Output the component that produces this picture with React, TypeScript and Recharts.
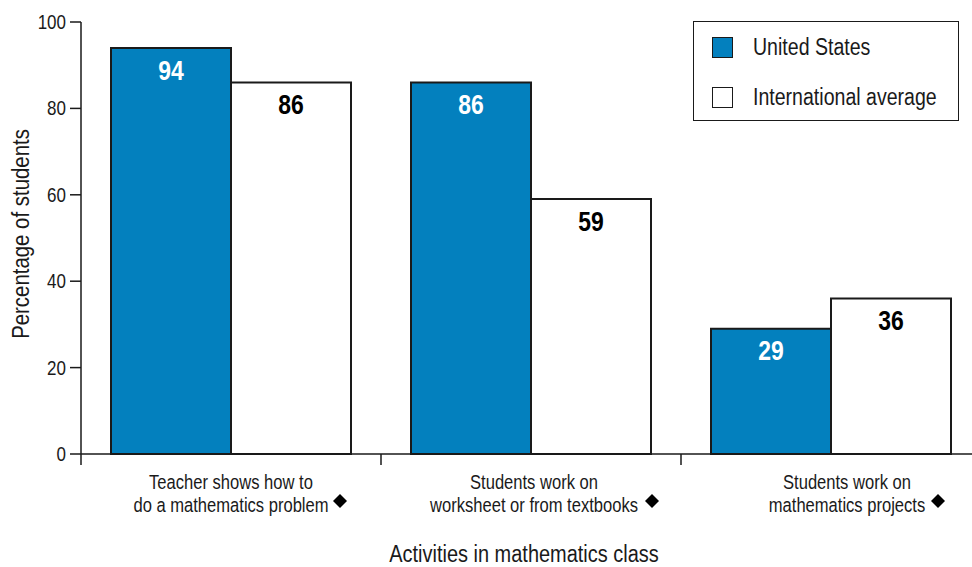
import { ComposedChart, Bar, XAxis, YAxis, LabelList } from "recharts";

// Share of students reporting each activity in maths lessons
const activities = [
  "Teacher shows how to|do a mathematics problem",
  "Students work on|worksheet or from textbooks",
  "Students work on|mathematics projects",
];
const unitedStates = [94, 86, 29];
const internationalAvg = [86, 59, 36];
const yTicks = [0, 20, 40, 60, 80, 100];

const rows = activities.map((name, i) => ({
  name,
  us: unitedStates[i],
  intl: internationalAvg[i],
}));

const FONT = "'Liberation Sans', Arial, sans-serif";
const SQUEEZE = 0.85; // condensed look for all text
const BLUE = "#0380BE";
const INK = "#1a1a1a";

const CHART_W = 1000;
const CHART_H = 567;
const MARGIN = { top: 22, right: 19, bottom: 0, left: 0 };
const Y_AXIS_W = 81;
const X_AXIS_H = 113;
const BAND = (CHART_W - MARGIN.left - MARGIN.right - Y_AXIS_W) / activities.length;

type NarrowProps = {
  x: number;
  y: number;
  size: number;
  anchor?: "start" | "middle" | "end";
  fill?: string;
  weight?: string | number;
  rotate?: number;
  children: any;
};

function NarrowText({ x, y, size, anchor = "middle", fill = INK, weight = "normal", rotate = 0, children }: NarrowProps) {
  return (
    <g transform={`translate(${x} ${y}) rotate(${rotate}) scale(${SQUEEZE} 1)`}>
      <text
        x={0}
        y={0}
        textAnchor={anchor}
        dominantBaseline="central"
        fontFamily={FONT}
        fontSize={size}
        fontWeight={weight}
        fill={fill}
      >
        {children}
      </text>
    </g>
  );
}

function CategoryTick(props: any) {
  const { x, y, payload } = props;
  const idx = payload.index ?? activities.indexOf(payload.value);
  const lines = String(payload.value).split("|");
  const left = x - BAND / 2;
  // the last label sits a little right of its band centre
  const cx = x + (idx === 2 ? 16 : idx === 1 ? 3 : 0);
  // diamond marker trails the second line
  const dx = [109, 121, 107][idx] ?? 110;
  const dy = y + 47;
  return (
    <g>
      <line x1={left} x2={left} y1={y} y2={y + 11} stroke={INK} strokeWidth={1.5} />
      {lines.map((ln, i) => (
        <NarrowText key={i} x={cx} y={y + 29 + i * 23} size={19.5}>
          {ln}
        </NarrowText>
      ))}
      <path d={`M${x + dx} ${dy - 7} L${x + dx + 7} ${dy} L${x + dx} ${dy + 7} L${x + dx - 7} ${dy} Z`} fill="#000" />
    </g>
  );
}

function ValueTick(props: any) {
  const { x, y, payload } = props;
  return (
    <NarrowText x={x} y={y} size={20} anchor="end">
      {payload.value}
    </NarrowText>
  );
}

function YTitle(props: any) {
  const { viewBox } = props;
  return (
    <NarrowText x={21} y={viewBox.y + viewBox.height / 2 - 4} size={24} rotate={-90}>
      Percentage of students
    </NarrowText>
  );
}

function XTitle(props: any) {
  const { viewBox } = props;
  return (
    <NarrowText x={524} y={viewBox.y + 100} size={23.5}>
      Activities in mathematics class
    </NarrowText>
  );
}

const barLabel = (color: string) => (props: any) => {
  const { x, y, width, value } = props;
  return (
    <NarrowText x={x + width / 2} y={y + 22} size={27} weight="bold" fill={color}>
      {value}
    </NarrowText>
  );
};

function Legend() {
  const item = (fill: string, text: string, top: number) => (
    <div style={{ position: "absolute", left: 18, top, display: "flex", alignItems: "center" }}>
      <div style={{ width: 19, height: 19, background: fill, border: `1.5px solid ${INK}` }} />
      <span
        style={{
          marginLeft: 20,
          fontSize: 23,
          color: INK,
          lineHeight: "22px",
          whiteSpace: "nowrap",
          display: "inline-block",
          transform: `scaleX(${SQUEEZE})`,
          transformOrigin: "left center",
        }}
      >
        {text}
      </span>
    </div>
  );
  return (
    <div
      style={{
        position: "absolute",
        left: 693,
        top: 21,
        width: 264,
        height: 98,
        border: `1.5px solid ${INK}`,
        background: "#fff",
        fontFamily: FONT,
      }}
    >
      {item(BLUE, "United States", 14)}
      {item("#fff", "International average", 64)}
    </div>
  );
}

export default function App() {
  return (
    <div style={{ position: "absolute", left: 0, top: 0, width: 972, height: 567, overflow: "hidden", background: "#fff" }}>
      <ComposedChart
        width={CHART_W}
        height={CHART_H}
        data={rows}
        margin={MARGIN}
        barCategoryGap="10%"
        barGap={0}
      >
        <XAxis
          dataKey="name"
          height={X_AXIS_H}
          tickLine={false}
          tickSize={0}
          tickMargin={0}
          interval={0}
          tick={<CategoryTick />}
          axisLine={{ stroke: INK, strokeWidth: 1.5 }}
          label={<XTitle />}
        />
        <YAxis
          width={Y_AXIS_W}
          domain={[0, 100]}
          ticks={yTicks}
          tickSize={11}
          tickMargin={4}
          tick={<ValueTick />}
          tickLine={{ stroke: INK, strokeWidth: 1.5 }}
          axisLine={{ stroke: INK, strokeWidth: 1.5 }}
          label={<YTitle />}
        />
        <Bar dataKey="us" fill={BLUE} stroke={INK} strokeWidth={2} isAnimationActive={false}>
          <LabelList dataKey="us" content={barLabel("#fff")} />
        </Bar>
        <Bar dataKey="intl" fill="#fff" stroke={INK} strokeWidth={2} isAnimationActive={false}>
          <LabelList dataKey="intl" content={barLabel("#000")} />
        </Bar>
      </ComposedChart>
      <Legend />
    </div>
  );
}
